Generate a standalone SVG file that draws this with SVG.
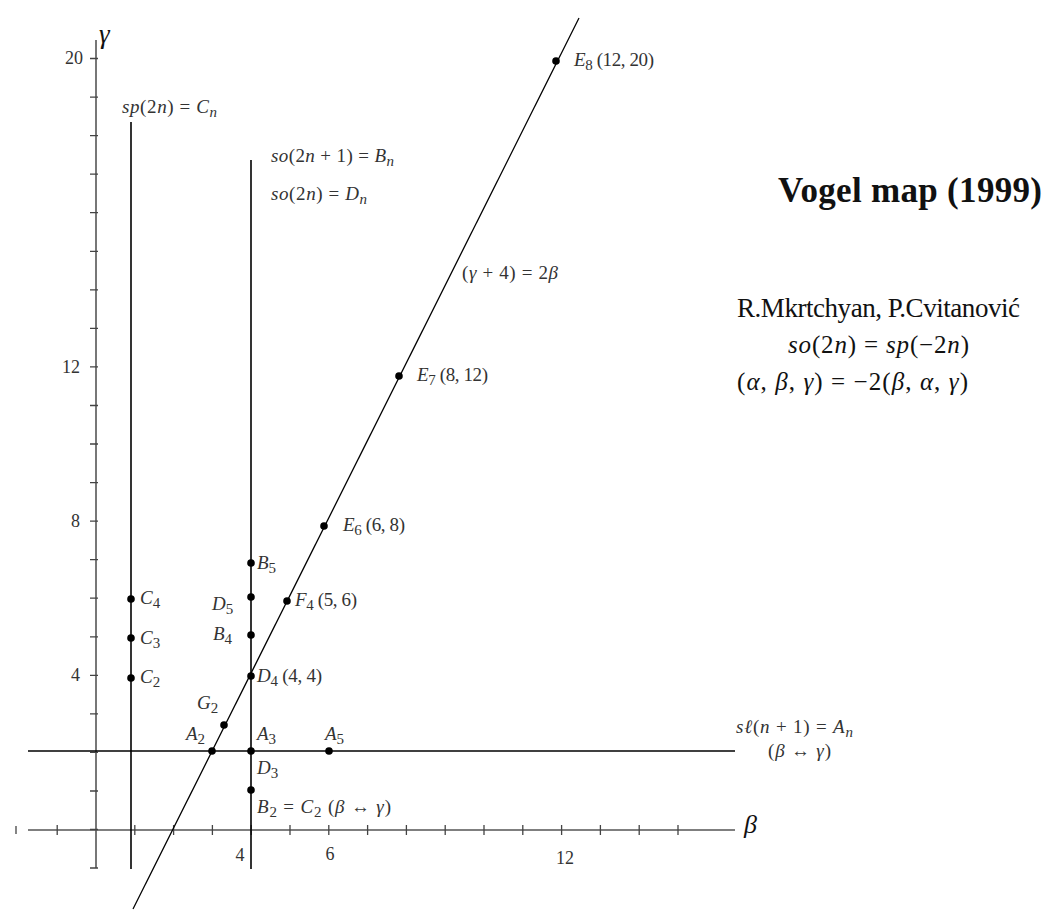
<svg xmlns="http://www.w3.org/2000/svg" width="1052" height="919" viewBox="0 0 1052 919">
<style>
.ax{stroke:#555;stroke-width:1.6;fill:none}
.tk{stroke:#444;stroke-width:1.3;fill:none}
.ln{stroke:#000;stroke-width:1.6;fill:none}
.dg{stroke:#000;stroke-width:1.3;fill:none}
.dot{fill:#000}
.m{font-family:"Liberation Serif",serif;font-size:19px;fill:#333}
.n{font-family:"Liberation Serif",serif;font-size:18px;fill:#333}
.i{font-style:italic}
.s{font-size:15px}
.big{font-family:"Liberation Serif",serif;fill:#111}
</style>
<rect width="1052" height="919" fill="#fff"/>
<g id="connectors">
  <line class="ax" x1="96" y1="40" x2="96" y2="868"/>
  <line class="ax" x1="28" y1="830" x2="735" y2="830"/>
  <path class="tk" d="M90 868H98M90 829.5H98M90 791H98M90 752.4H98M90 713.9H98M90 675.3H98M90 636.8H98M90 598.2H98M90 559.7H98M90 521.1H98M90 482.6H98M90 444H98M90 405.5H98M90 366.9H98M90 328.4H98M90 289.8H98M90 251.3H98M90 212.7H98M90 174.2H98M90 135.6H98M90 97.1H98M90 58.5H98"/>
  <path class="tk" d="M16 826V834M57.2 825V835M134.8 825V835M173.6 825V835M212.4 825V835M251.2 825V835M290 825V835M328.8 825V835M367.6 825V835M406.4 825V835M445.2 825V835M484 825V835M522.8 825V835M561.6 825V835M600.4 825V835M639.2 825V835M678 825V835"/>
  <line class="ln" x1="131" y1="122" x2="131" y2="869"/>
  <line class="ln" x1="251" y1="160" x2="251" y2="869"/>
  <line class="ln" x1="28" y1="751" x2="735" y2="751"/>
  <line class="dg" x1="133" y1="909" x2="579" y2="18"/>
</g>
<g id="axis-labels">
  <text class="n" x="83" y="64" text-anchor="end">20</text>
  <text class="n" x="80" y="373" text-anchor="end">12</text>
  <text class="n" x="80" y="527" text-anchor="end">8</text>
  <text class="n" x="80" y="681" text-anchor="end">4</text>
  <text class="n" x="240" y="861" text-anchor="middle">4</text>
  <text class="n" x="330" y="860" text-anchor="middle">6</text>
  <text class="n" x="565" y="864" text-anchor="middle">12</text>
  <text class="big i" x="99" y="43" font-size="27">γ</text>
  <text class="big i" x="744" y="833" font-size="26">β</text>
</g>
<g id="line-labels">
  <text class="m" x="122" y="113" textLength="95"><tspan class="i">sp</tspan>(2<tspan class="i">n</tspan>) = <tspan class="i">C</tspan><tspan class="s i" dy="4">n</tspan></text>
  <text class="m" x="271" y="162" textLength="123"><tspan class="i">so</tspan>(2<tspan class="i">n</tspan> + 1) = <tspan class="i">B</tspan><tspan class="s i" dy="4">n</tspan></text>
  <text class="m" x="271" y="200" textLength="96"><tspan class="i">so</tspan>(2<tspan class="i">n</tspan>) = <tspan class="i">D</tspan><tspan class="s i" dy="4">n</tspan></text>
  <text class="m" x="462" y="279" textLength="96">(<tspan class="i">γ</tspan> + 4) = 2<tspan class="i">β</tspan></text>
  <text class="m" x="736" y="733" textLength="117"><tspan class="i">s</tspan><tspan class="i">ℓ</tspan>(<tspan class="i">n</tspan> + 1) = <tspan class="i">A</tspan><tspan class="s i" dy="4">n</tspan></text>
  <text class="m" x="768" y="757" textLength="63">(<tspan class="i">β</tspan> ↔ <tspan class="i">γ</tspan>)</text>
</g>
<g id="node-E8"><circle class="dot" cx="556" cy="61" r="3.8"/><text class="m" x="574" y="66" textLength="80"><tspan class="i">E</tspan><tspan class="s" dy="4">8</tspan><tspan dy="-4"> (12, 20)</tspan></text></g>
<g id="node-E7"><circle class="dot" cx="399" cy="376" r="3.8"/><text class="m" x="417" y="381" textLength="71"><tspan class="i">E</tspan><tspan class="s" dy="4">7</tspan><tspan dy="-4"> (8, 12)</tspan></text></g>
<g id="node-E6"><circle class="dot" cx="324" cy="526" r="3.8"/><text class="m" x="343" y="531" textLength="62"><tspan class="i">E</tspan><tspan class="s" dy="4">6</tspan><tspan dy="-4"> (6, 8)</tspan></text></g>
<g id="node-F4"><circle class="dot" cx="287" cy="601" r="3.8"/><text class="m" x="295" y="606" textLength="62"><tspan class="i">F</tspan><tspan class="s" dy="4">4</tspan><tspan dy="-4"> (5, 6)</tspan></text></g>
<g id="node-B5"><circle class="dot" cx="251" cy="563" r="3.8"/><text class="m" x="257" y="569"><tspan class="i">B</tspan><tspan class="s" dy="4">5</tspan></text></g>
<g id="node-D5"><circle class="dot" cx="251" cy="597" r="3.8"/><text class="m" x="212" y="610"><tspan class="i">D</tspan><tspan class="s" dy="4">5</tspan></text></g>
<g id="node-B4"><circle class="dot" cx="251" cy="635" r="3.8"/><text class="m" x="213" y="640"><tspan class="i">B</tspan><tspan class="s" dy="4">4</tspan></text></g>
<g id="node-D4"><circle class="dot" cx="251" cy="676" r="3.8"/><text class="m" x="257" y="682" textLength="65"><tspan class="i">D</tspan><tspan class="s" dy="4">4</tspan><tspan dy="-4"> (4, 4)</tspan></text></g>
<g id="node-C4"><circle class="dot" cx="131" cy="599" r="3.8"/><text class="m" x="140" y="604"><tspan class="i">C</tspan><tspan class="s" dy="4">4</tspan></text></g>
<g id="node-C3"><circle class="dot" cx="131" cy="638" r="3.8"/><text class="m" x="140" y="644"><tspan class="i">C</tspan><tspan class="s" dy="4">3</tspan></text></g>
<g id="node-C2"><circle class="dot" cx="131" cy="678" r="3.8"/><text class="m" x="140" y="683"><tspan class="i">C</tspan><tspan class="s" dy="4">2</tspan></text></g>
<g id="node-G2"><circle class="dot" cx="224" cy="725" r="3.8"/><text class="m" x="197" y="709"><tspan class="i">G</tspan><tspan class="s" dy="4">2</tspan></text></g>
<g id="node-A2"><circle class="dot" cx="212" cy="751" r="3.8"/><text class="m" x="186" y="740"><tspan class="i">A</tspan><tspan class="s" dy="4">2</tspan></text></g>
<g id="node-A3"><circle class="dot" cx="251" cy="751" r="3.8"/><text class="m" x="257" y="740"><tspan class="i">A</tspan><tspan class="s" dy="4">3</tspan></text></g>
<g id="node-A5"><circle class="dot" cx="329" cy="751" r="3.8"/><text class="m" x="325" y="740"><tspan class="i">A</tspan><tspan class="s" dy="4">5</tspan></text></g>
<g id="node-D3"><text class="m" x="257" y="774"><tspan class="i">D</tspan><tspan class="s" dy="4">3</tspan></text></g>
<g id="node-B2"><circle class="dot" cx="251" cy="790" r="3.8"/><text class="m" x="257" y="813" textLength="134"><tspan class="i">B</tspan><tspan class="s" dy="4">2</tspan><tspan dy="-4"> = </tspan><tspan class="i">C</tspan><tspan class="s" dy="4">2</tspan><tspan dy="-4"> (</tspan><tspan class="i">β</tspan> ↔ <tspan class="i">γ</tspan>)</text></g>
<g id="title">
  <text class="big" x="778" y="202" font-size="35" font-weight="bold" textLength="264">Vogel map (1999)</text>
  <text class="big" x="737" y="317" font-size="27" textLength="283">R.Mkrtchyan, P.Cvitanović</text>
  <text class="big" x="788" y="353" font-size="25" textLength="181"><tspan class="i">so</tspan>(2<tspan class="i">n</tspan>) = <tspan class="i">sp</tspan>(−2<tspan class="i">n</tspan>)</text>
  <text class="big" x="737" y="390" font-size="25" textLength="231">(<tspan class="i">α</tspan>, <tspan class="i">β</tspan>, <tspan class="i">γ</tspan>) = −2(<tspan class="i">β</tspan>, <tspan class="i">α</tspan>, <tspan class="i">γ</tspan>)</text>
</g>
</svg>
